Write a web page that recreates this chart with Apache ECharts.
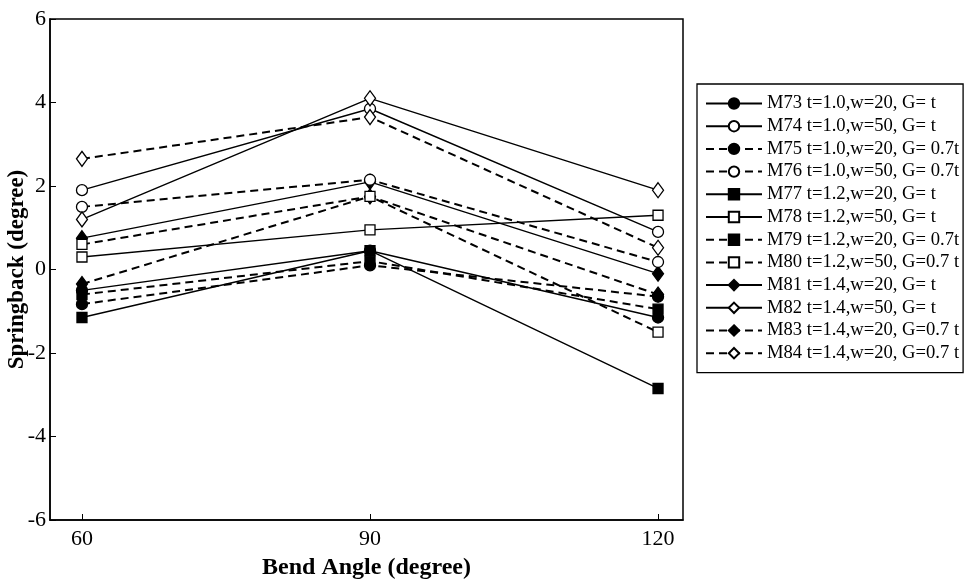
<!DOCTYPE html>
<html>
<head>
<meta charset="utf-8">
<script src="https://cdn.jsdelivr.net/npm/echarts@6/dist/echarts.min.js"></script>
<style>
  html, body { margin: 0; padding: 0; background: #fff; }
  #chart { width: 976px; height: 579px; }
</style>
</head>
<body>
<div id="chart"></div>
<script>
const angles = [60, 90, 120]

const names = [
  'M73 t=1.0,w=20, G= t',
  'M74 t=1.0,w=50, G= t',
  'M75 t=1.0,w=20, G= 0.7t',
  'M76 t=1.0,w=50, G= 0.7t',
  'M77 t=1.2,w=20, G= t',
  'M78 t=1.2,w=50, G= t',
  'M79 t=1.2,w=20, G= 0.7t',
  'M80 t=1.2,w=50, G=0.7 t',
  'M81 t=1.4,w=20, G= t',
  'M82 t=1.4,w=50, G= t',
  'M83 t=1.4,w=20, G=0.7 t',
  'M84 t=1.4,w=20, G=0.7 t',
]

// springback at 60, 90, 120 degrees
const m73 = [-0.5, 0.45, -1.15]
const m74 = [1.9, 3.85, 0.9]
const m75 = [-0.83, 0.1, -0.65]
const m76 = [1.5, 2.15, 0.18]
const m77 = [-1.15, 0.45, -2.85]
const m78 = [0.3, 0.95, 1.3]
const m79 = [-0.6, 0.2, -0.95]
const m80 = [0.6, 1.75, -1.5]
const m81 = [0.75, 2.1, -0.1]
const m82 = [1.2, 4.1, 1.9]
const m83 = [-0.35, 1.75, -0.6]
const m84 = [2.65, 3.65, 0.52]

const values = [m73, m74, m75, m76, m77, m78, m79, m80, m81, m82, m83, m84]
const yTicks = [-6, -4, -2, 0, 2, 4, 6]

// marker shape / filled / dashed per series
const shapes = ['circle', 'circle', 'circle', 'circle', 'rect', 'rect', 'rect', 'rect', 'diamond', 'diamond', 'diamond', 'diamond']
const filled = [true, false, true, false, true, false, true, false, true, false, true, false]
const dashed = [false, false, true, true, false, false, true, true, false, false, true, true]

const font = 'Liberation Serif'

const chart = echarts.init(document.getElementById('chart'))

const series = values.map((vals, i) => {
  const sizes = { circle: 11, rect: 10, diamond: [11, 15] }
  return {
    type: 'line',
    name: names[i],
    data: angles.map((a, j) => [a, vals[j]]),
    symbol: shapes[i],
    symbolSize: sizes[shapes[i]],
    showAllSymbol: true,
    lineStyle: {
      color: '#000',
      width: dashed[i] ? 2 : 1.4,
      type: dashed[i] ? [8, 5] : 'solid',
    },
    itemStyle: {
      color: filled[i] ? '#000' : '#fff',
      borderColor: '#000',
      borderWidth: 1.3,
    },
    emphasis: { disabled: true },
    animation: false,
    z: filled[i] ? 3 : 4,
  }
})

chart.setOption({
  animation: false,
  grid: {
    left: 50,
    right: 293,
    top: 19,
    bottom: 59,
    outerBoundsMode: 'none',
    show: true,
    borderColor: '#000',
    borderWidth: 1.5,
  },
  legend: {
    orient: 'vertical',
    left: 697,
    top: 84,
    padding: [10, 4, 10, 8],
    borderColor: '#000',
    borderWidth: 1.3,
    itemWidth: 56,
    itemHeight: 13,
    itemGap: 3.7,
    textStyle: { fontFamily: font, fontSize: 18.6, color: '#000' },
    data: names,
  },
  xAxis: {
    type: 'value',
    min: 56.67,
    max: 122.6,
    name: 'Bend Angle (degree)',
    nameLocation: 'middle',
    nameGap: 36,
    nameMoveOverlap: false,
    nameTextStyle: { fontFamily: font, fontSize: 24, fontWeight: 'bold', color: '#000' },
    axisLine: { show: true, onZero: false, lineStyle: { color: '#000', width: 1.5 } },
    axisTick: { inside: true, length: 6, customValues: angles, lineStyle: { color: '#000' } },
    axisLabel: { customValues: angles, fontFamily: font, fontSize: 22, color: '#000', margin: 8 },
    splitLine: { show: false },
  },
  yAxis: {
    type: 'value',
    min: -6,
    max: 6,
    interval: 2,
    name: 'Springback (degree)',
    nameLocation: 'middle',
    nameGap: 21,
    nameMoveOverlap: false,
    nameTextStyle: { fontFamily: font, fontSize: 23, fontWeight: 'bold', color: '#000' },
    axisLine: { show: true, lineStyle: { color: '#000', width: 1.5 } },
    axisTick: { inside: true, length: 6, customValues: yTicks, lineStyle: { color: '#000' } },
    axisLabel: { customValues: yTicks, fontFamily: font, fontSize: 22, color: '#000', margin: 4 },
    splitLine: { show: false },
  },
  series: series,
})
</script>
</body>
</html>
